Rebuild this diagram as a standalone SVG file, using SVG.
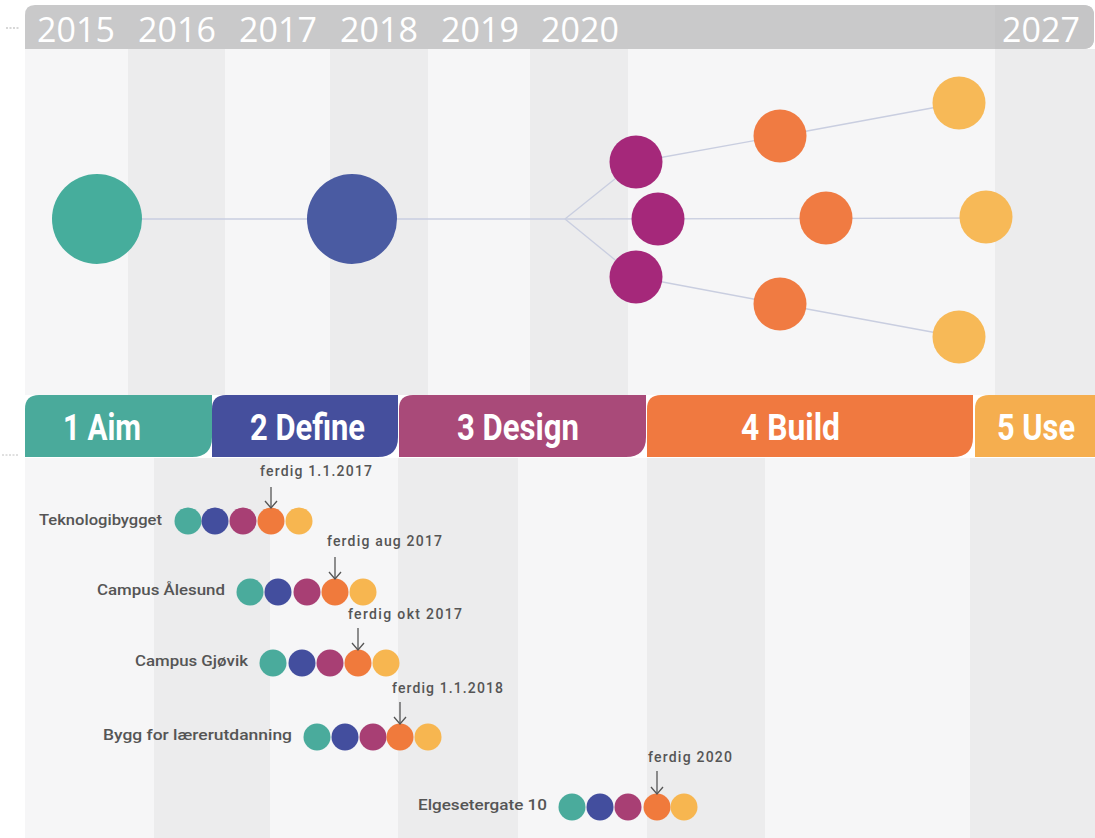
<svg xmlns="http://www.w3.org/2000/svg" width="1095" height="838" viewBox="0 0 1095 838">
<defs>
<style>
.yr{font-family:"Open Sans","Liberation Sans",sans-serif;font-size:34px;fill:#ffffff;text-anchor:middle}
.ph{font-family:Roboto,"Liberation Sans",sans-serif;font-weight:700;font-size:37px;fill:#ffffff}
.lb{font-family:Roboto,"Liberation Sans",sans-serif;font-weight:500;font-size:14px;fill:#555555}
.fd{font-family:Roboto,"Liberation Sans",sans-serif;font-weight:500;font-size:14px;fill:#555555}
.lt{fill:#f6f6f7}
.dk{fill:#ececed}
.con{stroke:#c9cee0;stroke-width:1.3;fill:none}
.arr{stroke:#555555;stroke-width:1.3;fill:none}
.c1{fill:#4aab9c}.c2{fill:#434e9e}.c3{fill:#a83f74}.c4{fill:#f07a3c}.c5{fill:#f7b650}
</style>
<marker id="ah" viewBox="0 0 9 14" refX="8" refY="7" markerWidth="9" markerHeight="14" markerUnits="userSpaceOnUse" orient="auto">
<path d="M1,1 L8,7 L1,13" stroke="#555555" stroke-width="1.3" fill="none"/>
</marker>
</defs>
<rect x="0" y="0" width="1095" height="838" fill="#ffffff"/>
<g id="top-stripes">
<rect class="lt" x="25" y="49" width="1070" height="346"/>
<rect class="dk" x="128" y="49" width="97" height="346"/>
<rect class="dk" x="330" y="49" width="98" height="346"/>
<rect class="dk" x="530" y="49" width="98" height="346"/>
<rect class="dk" x="995" y="49" width="100" height="346"/>
</g>
<g id="bottom-stripes">
<rect class="lt" x="25" y="458" width="1070" height="380"/>
<rect class="dk" x="154" y="458" width="116" height="380"/>
<rect class="dk" x="398" y="458" width="120" height="380"/>
<rect class="dk" x="647" y="458" width="118" height="380"/>
<rect class="dk" x="970" y="458" width="125" height="380"/>
</g>
<g id="header">
<path d="M25,49 L25,15 Q25,5 35,5 L1083,5 Q1094,5 1094,15 L1094,38 Q1094,49 1083,49 Z" fill="#c9c9ca"/>
<path d="M995,5 L1083,5 Q1094,5 1094,15 L1094,38 Q1094,49 1083,49 L995,49 Z" fill="#c5c5c6"/>
<text class="yr" x="76" y="42">2015</text>
<text class="yr" x="177" y="42">2016</text>
<text class="yr" x="278" y="42">2017</text>
<text class="yr" x="379" y="42">2018</text>
<text class="yr" x="480" y="42">2019</text>
<text class="yr" x="580" y="42">2020</text>
<text class="yr" x="1041" y="42">2027</text>
</g>
<line x1="6" y1="28" x2="20" y2="28" stroke="#b0b0b0" stroke-width="1.2" stroke-dasharray="2,1.5"/>
<line x1="2" y1="455" x2="18" y2="455" stroke="#c0c0c0" stroke-width="1" stroke-dasharray="2,1.5"/>
<g id="connectors" class="con">
<line x1="97" y1="219" x2="565" y2="219"/>
<line x1="565" y1="219" x2="636" y2="162"/>
<line x1="565" y1="219" x2="636" y2="277"/>
<line x1="565" y1="219" x2="986" y2="218"/>
<polyline points="636,162 780,136 959,103"/>
<polyline points="636,277 780,304 959,337"/>
</g>
<g id="node-aim"><circle cx="97" cy="219" r="45" fill="#46ad9c"/></g>
<g id="node-define"><circle cx="352" cy="219" r="45" fill="#4a5ba2"/></g>
<g id="node-design-1"><circle cx="636" cy="162" r="26.5" fill="#a5287a"/></g>
<g id="node-design-2"><circle cx="658" cy="219" r="26.5" fill="#a5287a"/></g>
<g id="node-design-3"><circle cx="636" cy="277" r="26.5" fill="#a5287a"/></g>
<g id="node-build-1"><circle cx="780" cy="136" r="26.5" fill="#f07b42"/></g>
<g id="node-build-2"><circle cx="826" cy="218" r="26.5" fill="#f07b42"/></g>
<g id="node-build-3"><circle cx="780" cy="304" r="26.5" fill="#f07b42"/></g>
<g id="node-use-1"><circle cx="959" cy="103" r="26.5" fill="#f7b957"/></g>
<g id="node-use-2"><circle cx="986" cy="217" r="26.5" fill="#f7b957"/></g>
<g id="node-use-3"><circle cx="959" cy="337" r="26.5" fill="#f7b957"/></g>
<g id="phase-aim">
<path d="M25,457 L25,409 Q25,395 39,395 L212,395 L212,437 Q212,457 192,457 Z" fill="#4aaa9b"/>
<text class="ph" x="63" y="440" textLength="78" lengthAdjust="spacingAndGlyphs">1 Aim</text>
</g>
<g id="phase-define">
<path d="M212,457 L212,409 Q212,395 226,395 L398,395 L398,437 Q398,457 378,457 Z" fill="#454f9d"/>
<text class="ph" x="250" y="440" textLength="115" lengthAdjust="spacingAndGlyphs">2 Define</text>
</g>
<g id="phase-design">
<path d="M399,457 L399,409 Q399,395 413,395 L646,395 L646,437 Q646,457 626,457 Z" fill="#a94a79"/>
<text class="ph" x="457" y="440" textLength="122" lengthAdjust="spacingAndGlyphs">3 Design</text>
</g>
<g id="phase-build">
<path d="M647,457 L647,409 Q647,395 661,395 L973,395 L973,437 Q973,457 953,457 Z" fill="#f07940"/>
<text class="ph" x="741" y="440" textLength="99" lengthAdjust="spacingAndGlyphs">4 Build</text>
</g>
<g id="phase-use">
<path d="M975,457 L975,409 Q975,395 989,395 L1095,395 L1095,457 Z" fill="#f5ae4f"/>
<text class="ph" x="997" y="440" textLength="78" lengthAdjust="spacingAndGlyphs">5 Use</text>
</g>
<g id="proj-teknologibygget">
<text class="lb" x="39" y="525" textLength="123" lengthAdjust="spacingAndGlyphs">Teknologibygget</text>
<circle class="c1" cx="188" cy="521" r="13.5"/><circle class="c2" cx="215" cy="521" r="13.5"/><circle class="c3" cx="243" cy="521" r="13.5"/><circle class="c4" cx="271" cy="521" r="13.5"/><circle class="c5" cx="299" cy="521" r="13.5"/>
<text class="fd" x="260" y="476" textLength="112" lengthAdjust="spacing">ferdig 1.1.2017</text>
<line class="arr" x1="271" y1="487" x2="271" y2="508" marker-end="url(#ah)"/>
</g>
<g id="proj-alesund">
<text class="lb" x="97" y="595" textLength="128" lengthAdjust="spacingAndGlyphs">Campus Ålesund</text>
<circle class="c1" cx="250" cy="592" r="13.5"/><circle class="c2" cx="278" cy="592" r="13.5"/><circle class="c3" cx="307" cy="592" r="13.5"/><circle class="c4" cx="335" cy="592" r="13.5"/><circle class="c5" cx="363" cy="592" r="13.5"/>
<text class="fd" x="327" y="546" textLength="115" lengthAdjust="spacing">ferdig aug 2017</text>
<line class="arr" x1="335" y1="557" x2="335" y2="579" marker-end="url(#ah)"/>
</g>
<g id="proj-gjovik">
<text class="lb" x="135" y="666" textLength="113" lengthAdjust="spacingAndGlyphs">Campus Gjøvik</text>
<circle class="c1" cx="273" cy="663" r="13.5"/><circle class="c2" cx="302" cy="663" r="13.5"/><circle class="c3" cx="330" cy="663" r="13.5"/><circle class="c4" cx="358" cy="663" r="13.5"/><circle class="c5" cx="386" cy="663" r="13.5"/>
<text class="fd" x="348" y="619" textLength="114" lengthAdjust="spacing">ferdig okt 2017</text>
<line class="arr" x1="358" y1="628" x2="358" y2="650" marker-end="url(#ah)"/>
</g>
<g id="proj-laererutdanning">
<text class="lb" x="103" y="740" textLength="189" lengthAdjust="spacingAndGlyphs">Bygg for lærerutdanning</text>
<circle class="c1" cx="317" cy="737" r="13.5"/><circle class="c2" cx="345" cy="737" r="13.5"/><circle class="c3" cx="373" cy="737" r="13.5"/><circle class="c4" cx="400" cy="737" r="13.5"/><circle class="c5" cx="428" cy="737" r="13.5"/>
<text class="fd" x="392" y="693" textLength="111" lengthAdjust="spacing">ferdig 1.1.2018</text>
<line class="arr" x1="400" y1="702" x2="400" y2="724" marker-end="url(#ah)"/>
</g>
<g id="proj-elgesetergate">
<text class="lb" x="418" y="810" textLength="129" lengthAdjust="spacingAndGlyphs">Elgesetergate 10</text>
<circle class="c1" cx="572" cy="807" r="13.5"/><circle class="c2" cx="600" cy="807" r="13.5"/><circle class="c3" cx="628" cy="807" r="13.5"/><circle class="c4" cx="657" cy="807" r="13.5"/><circle class="c5" cx="684" cy="807" r="13.5"/>
<text class="fd" x="648" y="762" textLength="84" lengthAdjust="spacing">ferdig 2020</text>
<line class="arr" x1="657" y1="771" x2="657" y2="794" marker-end="url(#ah)"/>
</g>
</svg>
